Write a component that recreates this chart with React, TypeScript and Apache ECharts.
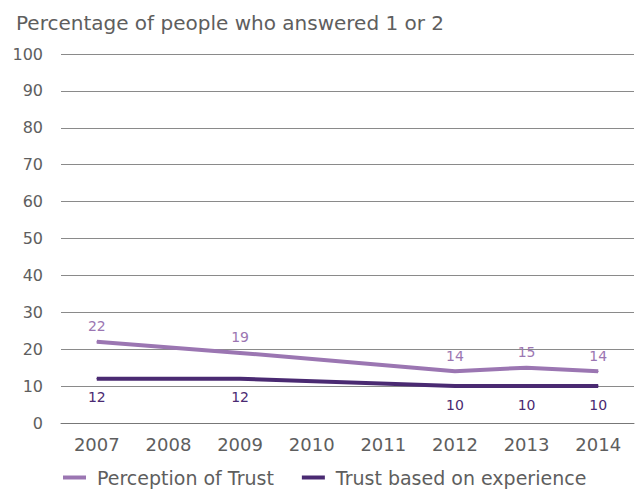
import React, { useEffect, useRef } from "react";
import * as echarts from "echarts";

const years = ["2007", "2008", "2009", "2010", "2011", "2012", "2013", "2014"];
const perception = [22, null, 19, null, null, 14, 15, 14];
const experience = [12, null, 12, null, null, 10, 10, 10];
const seriesNames = ["Perception of Trust", "Trust based on experience"];
const title = "Percentage of people who answered 1 or 2";

const FONT = "'DejaVu Sans', Verdana, sans-serif";
const LIGHT = "#9b76b2";
const DARK = "#4a2a72";
const TEXT = "#5e5e5e";

export default function App() {
  const ref = useRef<HTMLDivElement>(null);
  useEffect(() => {
    document.body.style.margin = "0";
    const chart = echarts.init(ref.current!, null, { renderer: "svg" });
    chart.setOption({
      animation: false,
      textStyle: { fontFamily: FONT },
      title: {
        text: title,
        left: 11,
        top: 8,
        textStyle: { fontFamily: FONT, fontSize: 20, fontWeight: "normal", color: TEXT },
      },
      grid: { left: 61, right: 4, top: 54, bottom: 71 },
      legend: {
        bottom: 2,
        left: 58,
        itemWidth: 23,
        itemHeight: 4,
        itemGap: 28,
        icon: "rect",
        textStyle: { fontFamily: FONT, fontSize: 19, color: TEXT, padding: [0, 0, 0, 6] },
        data: seriesNames,
      },
      xAxis: {
        type: "category",
        data: years,
        boundaryGap: true,
        axisLine: { show: true, lineStyle: { color: "#777", width: 1 } },
        axisTick: { show: false },
        axisLabel: { fontFamily: FONT, fontSize: 18, color: TEXT, margin: 12 },
      },
      yAxis: {
        type: "value",
        min: 0,
        max: 100,
        interval: 10,
        axisLine: { show: false },
        axisTick: { show: false },
        axisLabel: { fontFamily: FONT, fontSize: 16, color: TEXT, margin: 18 },
        splitLine: { lineStyle: { color: "#8a8a8a", width: 1 } },
      },
      series: [
        {
          name: seriesNames[0],
          type: "line",
          data: perception,
          connectNulls: true,
          symbol: "circle",
          symbolSize: 1,
          showSymbol: true,
          lineStyle: { color: LIGHT, width: 4 },
          itemStyle: { color: LIGHT },
          label: {
            show: true,
            position: "top",
            distance: 8,
            fontFamily: FONT,
            fontSize: 14,
            color: LIGHT,
          },
        },
        {
          name: seriesNames[1],
          type: "line",
          data: experience,
          connectNulls: true,
          symbol: "circle",
          symbolSize: 1,
          showSymbol: true,
          lineStyle: { color: DARK, width: 4 },
          itemStyle: { color: DARK },
          label: {
            show: true,
            position: "bottom",
            distance: 11,
            fontFamily: FONT,
            fontSize: 14,
            color: DARK,
          },
        },
      ],
    });
    return () => chart.dispose();
  }, []);
  return <div ref={ref} style={{ width: 638, height: 494 }} />;
}
